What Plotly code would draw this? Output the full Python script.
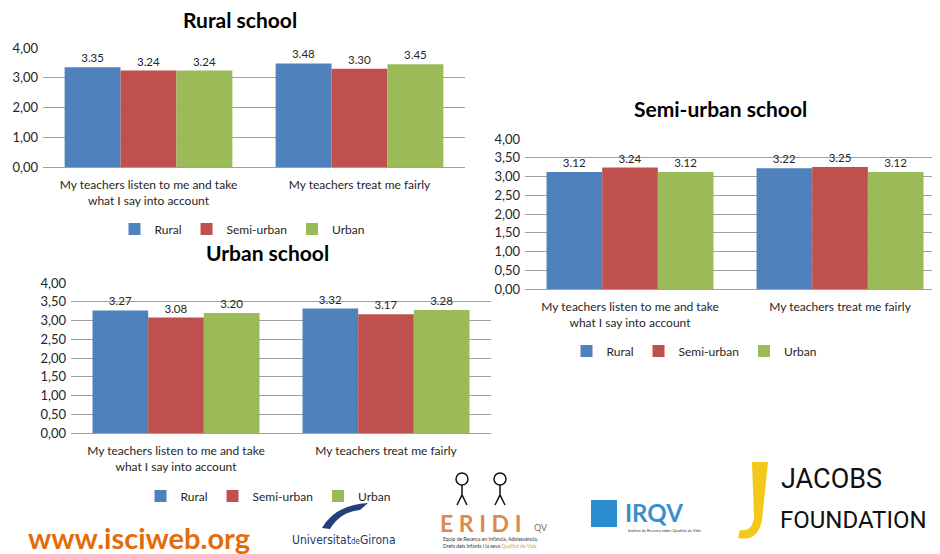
import plotly.graph_objects as go

# The page body has an 8px margin, so the figure is sized to fit the window.
OFF = 8
W, H = 940 - OFF, 554 - OFF

categories = ["My teachers listen to me and take<br>what I say into account",
              "My teachers treat me fairly"]
series_names = ["Rural", "Semi-urban", "Urban"]
colors = ["#4F81BD", "#C0504D", "#9BBB59"]

rural_school = {"Rural": [3.35, 3.48], "Semi-urban": [3.24, 3.30], "Urban": [3.24, 3.45]}
semi_school = {"Rural": [3.12, 3.22], "Semi-urban": [3.24, 3.25], "Urban": [3.12, 3.12]}
urban_school = {"Rural": [3.27, 3.32], "Semi-urban": [3.08, 3.17], "Urban": [3.20, 3.28]}

ticks_rural = [0, 1, 2, 3, 4]
ticktext_rural = ["0,00", "1,00", "2,00", "3,00", "4,00"]
ticks_half = [0, 0.5, 1, 1.5, 2, 2.5, 3, 3.5, 4]
ticktext_half = ["0,00", "0,50", "1,00", "1,50", "2,00", "2,50", "3,00", "3,50", "4,00"]

FONT = "Lato, 'Open Sans', sans-serif"
TXT = "#262626"


def px(x):
    return (x - OFF) / W


def py(y):
    return 1 - (y - OFF) / H


fig = go.Figure()

panels = [
    (rural_school, "x", "y", "legend", (43, 465), (48, 167), ticks_rural, ticktext_rural, [-0.5, 1.5]),
    (semi_school, "x2", "y2", "legend2", (525, 940), (139, 289), ticks_half, ticktext_half, [-0.5, 1.476]),
    (urban_school, "x3", "y3", "legend3", (71, 491), (283, 433), ticks_half, ticktext_half, [-0.5, 1.5]),
]

for data, xa, ya, lg, _, _, _, _, _ in panels:
    for name, col in zip(series_names, colors):
        vals = data[name]
        fig.add_trace(go.Bar(
            x=categories, y=vals, name=name, marker_color=col,
            marker_line_width=0,
            text=[f"{v:.2f}" for v in vals], textposition="outside",
            textfont=dict(size=11.5, color=TXT, family=FONT),
            cliponaxis=False,
            xaxis=xa, yaxis=ya, legend=lg,
        ))

layout_axes = {}
for i, (data, xa, ya, lg, xd, yd, tv, tt, xr) in enumerate(panels):
    sfx = "" if i == 0 else str(i + 1)
    layout_axes["xaxis" + sfx] = dict(
        domain=[px(xd[0]), min(1.0, px(xd[1]))], anchor=ya, range=xr,
        showgrid=False, showline=False, ticks="", automargin=False,
        ticklabelstandoff=9,
        tickfont=dict(size=12, color=TXT, family=FONT),
    )
    layout_axes["yaxis" + sfx] = dict(
        domain=[py(yd[1]), py(yd[0])], anchor=xa, range=[0, 4],
        tickvals=tv, ticktext=tt, showgrid=True, gridcolor="#A0A0A0",
        gridwidth=1, zeroline=True, zerolinecolor="#A0A0A0", zerolinewidth=1,
        showline=False, ticks="", ticklen=0, automargin=False,
        ticklabelstandoff=4,
        tickfont=dict(size=13, color=TXT, family=FONT),
    )

leg_common = dict(orientation="h", xanchor="center", yanchor="middle",
                  font=dict(size=12, color=TXT, family=FONT),
                  bgcolor="rgba(0,0,0,0)", itemwidth=30, traceorder="normal")

fig.update_layout(
    width=W, height=H, margin=dict(l=0, r=0, t=0, b=0, autoexpand=False),
    paper_bgcolor="white", plot_bgcolor="white",
    barmode="group", bargap=0.205, bargroupgap=0,
    font=dict(family=FONT, color=TXT),
    legend=dict(x=px(242), y=py(229), **leg_common),
    legend2=dict(x=px(694), y=py(351), **leg_common),
    legend3=dict(x=px(268), y=py(496), **leg_common),
    **layout_axes,
)

# Titles
for text, x, y in [("Rural school", 240, 19), ("Semi-urban school", 720, 108), ("Urban school", 267, 253)]:
    fig.add_annotation(text=f"<b>{text}</b>", x=px(x), y=py(y), xref="paper", yref="paper",
                       showarrow=False, font=dict(size=21, color="#000000", family=FONT),
                       xanchor="center", yanchor="middle")

# Footer logos (as text + simple shapes)
fig.add_annotation(text="<b>www.isciweb.org</b>", x=px(26), y=py(537), xref="paper", yref="paper",
                   showarrow=False, xanchor="left", yanchor="middle",
                   font=dict(size=29, color="#E36C09", family=FONT))
fig.add_annotation(text="Universitat<span style='font-size:8px'>de</span>Girona", x=px(344), y=py(540),
                   xref="paper", yref="paper", showarrow=False, xanchor="center", yanchor="middle",
                   font=dict(size=12, color="#243A6B", family="'DejaVu Sans Condensed', 'Open Sans', sans-serif"))
# UdG bird (stylized)
fig.add_shape(type="path", xref="paper", yref="paper",
              path=f"M {px(322)},{py(528)} Q {px(335)},{py(505)} {px(368)},{py(503)} L {px(360)},{py(510)} Q {px(340)},{py(512)} {px(330)},{py(529)} Z",
              fillcolor="#24407A", line=dict(width=0))
# ERIDI
fig.add_annotation(text="<b>E R I D I</b>", x=px(438), y=py(523), xref="paper", yref="paper",
                   showarrow=False, xanchor="left", yanchor="middle",
                   font=dict(size=23, color="#D98B4E", family=FONT))
fig.add_annotation(text="QV", x=px(532), y=py(527), xref="paper", yref="paper",
                   showarrow=False, xanchor="left", yanchor="middle",
                   font=dict(size=9, color="#8B6E50", family=FONT))
fig.add_annotation(text="Equip de Recerca en Infància, Adolescència,<br>Drets dels Infants i la seva <span style='color:#D9A441'>Qualitat de Vida</span>",
                   x=px(441), y=py(542), xref="paper", yref="paper", showarrow=False,
                   xanchor="left", yanchor="middle", align="left",
                   font=dict(size=5, color="#333333", family=FONT))
# stick figures
for cx in (462, 500):
    fig.add_shape(type="circle", xref="paper", yref="paper",
                  x0=px(cx - 6), x1=px(cx + 6), y0=py(485), y1=py(473),
                  line=dict(color="#111111", width=1.5))
    fig.add_shape(type="path", xref="paper", yref="paper",
                  path=f"M {px(cx)},{py(485)} L {px(cx)},{py(497)} M {px(cx-5)},{py(505)} L {px(cx)},{py(495)} L {px(cx+5)},{py(505)}",
                  line=dict(color="#111111", width=1.5))
# IRQV
fig.add_shape(type="rect", xref="paper", yref="paper", x0=px(591), x1=px(617), y0=py(527), y1=py(500),
              fillcolor="#2B8CD0", line=dict(width=0))
fig.add_annotation(text="<b>IRQV</b>", x=px(623), y=py(512), xref="paper", yref="paper",
                   showarrow=False, xanchor="left", yanchor="middle",
                   font=dict(size=24, color="#3A8FD0", family=FONT))
fig.add_annotation(text="Institut de Recerca sobre Qualitat de Vida", x=px(626), y=py(530), xref="paper", yref="paper",
                   showarrow=False, xanchor="left", yanchor="middle",
                   font=dict(size=4, color="#333333", family=FONT))
# Jacobs
fig.add_shape(type="path", xref="paper", yref="paper",
              path=f"M {px(752)},{py(462)} L {px(768)},{py(462)} L {px(762)},{py(520)} Q {px(758)},{py(542)} {px(738)},{py(538)} L {px(740)},{py(530)} Q {px(752)},{py(532)} {px(754)},{py(518)} Z",
              fillcolor="#F3C81B", line=dict(width=0))
fig.add_annotation(text="JACOBS", x=px(779), y=py(479), xref="paper", yref="paper",
                   showarrow=False, xanchor="left", yanchor="middle",
                   font=dict(size=27, color="#111111", family="Roboto, sans-serif"))
fig.add_annotation(text="FOUNDATION", x=px(778), y=py(520), xref="paper", yref="paper",
                   showarrow=False, xanchor="left", yanchor="middle",
                   font=dict(size=24, color="#111111", family="Roboto, sans-serif"))

fig.write_html("out.html")
